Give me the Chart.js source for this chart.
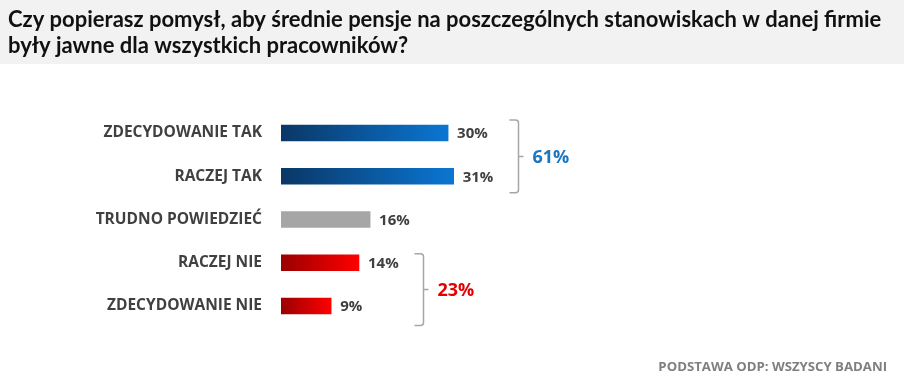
<!DOCTYPE html>
<html>
<head>
<meta charset="utf-8">
<script src="https://cdn.jsdelivr.net/npm/chart.js@4.4.1/dist/chart.umd.min.js"></script>
<style>
  html, body { margin: 0; padding: 0; background: #ffffff; }
  #wrap { width: 904px; height: 379px; position: relative; }
</style>
</head>
<body>
<div id="wrap"><canvas id="c" width="904" height="379"></canvas></div>
<script>
// ---- data ----
const titleLines = [
  "Czy popierasz pomysł, aby średnie pensje na poszczególnych stanowiskach w danej firmie",
  "były jawne dla wszystkich pracowników?"
];
const categories = ["ZDECYDOWANIE TAK", "RACZEJ TAK", "TRUDNO POWIEDZIEĆ", "RACZEJ NIE", "ZDECYDOWANIE NIE"];
const values = [30, 31, 16, 14, 9];
const groupStart = [0, 3];
const groupEnd = [1, 4];
const groupTotals = [61, 23];
const footerText = "PODSTAWA ODP: WSZYSCY BADANI";

// ---- styles ----
const barColors = [
  ["#0a3766", "#0a76d2"],
  ["#0a3766", "#0a76d2"],
  ["#a6a6a6", "#a6a6a6"],
  ["#9a0000", "#ff0000"],
  ["#9a0000", "#ff0000"]
];
const groupStyle = [
  { color: "#1b75bf", padTop: 13, padBottom: 16.5 },
  { color: "#e50000", padTop: 9, padBottom: 19.5 }
];
const FONT = "'Open Sans', 'DejaVu Sans', sans-serif";
const TITLE_FONT = "bold 22px Lato, 'Liberation Sans Narrow', sans-serif";

const decorPlugin = {
  id: "decor",
  beforeDraw(chart) {
    const ctx = chart.ctx;
    ctx.save();
    ctx.fillStyle = "#f2f2f2";
    ctx.fillRect(0, 0, chart.width, 64);
    ctx.fillStyle = "#111111";
    ctx.font = TITLE_FONT;
    ctx.textAlign = "left";
    ctx.textBaseline = "alphabetic";
    ctx.fillText(titleLines[0], 8, 27);
    ctx.fillText(titleLines[1], 8, 53);
    ctx.restore();
  },
  afterDatasetsDraw(chart) {
    const ctx = chart.ctx;
    const meta = chart.getDatasetMeta(0);
    const xs = chart.scales.x;
    ctx.save();
    // value labels
    ctx.font = "bold 15px " + FONT;
    ctx.fillStyle = "#404040";
    ctx.textAlign = "left";
    ctx.textBaseline = "middle";
    meta.data.forEach((bar, i) => {
      ctx.fillText(values[i] + "%", bar.x + 9, bar.y + 1);
    });
    // brackets
    groupTotals.forEach((tot, g) => {
      const s = groupStart[g], e = groupEnd[g];
      let maxV = 0;
      for (let i = s; i <= e; i++) maxV = Math.max(maxV, values[i]);
      const x = Math.round(xs.getPixelForValue(maxV)) + 64.5;
      const top = meta.data[s].y - groupStyle[g].padTop;
      const bottom = meta.data[e].y + groupStyle[g].padBottom;
      const mid = (top + bottom) / 2;
      ctx.strokeStyle = "#a6a6a6";
      ctx.lineWidth = 1.5;
      ctx.beginPath();
      ctx.moveTo(x - 9, top);
      ctx.arcTo(x, top, x, top + 6, 3);
      ctx.lineTo(x, bottom - 3);
      ctx.arcTo(x, bottom, x - 9, bottom, 3);
      ctx.lineTo(x - 9, bottom);
      ctx.moveTo(x, mid);
      ctx.lineTo(x + 5, mid);
      ctx.stroke();
      ctx.font = "bold 18px " + FONT;
      ctx.fillStyle = groupStyle[g].color;
      ctx.textBaseline = "middle";
      ctx.fillText(tot + "%", x + 14, mid + 1);
    });
    // footer
    ctx.font = "bold 13.2px " + FONT;
    ctx.fillStyle = "#7f7f7f";
    ctx.textAlign = "right";
    ctx.textBaseline = "middle";
    ctx.fillText(footerText, 887, 367);
    ctx.restore();
  }
};

new Chart(document.getElementById("c"), {
  type: "bar",
  data: {
    labels: categories,
    datasets: [{
      data: values,
      barThickness: 16,
      borderWidth: 0,
      backgroundColor(ctx) {
        const chart = ctx.chart;
        const i = ctx.dataIndex;
        const xs = chart.scales.x;
        if (!chart.chartArea || !xs || i === undefined) return barColors[0][1];
        const x0 = xs.getPixelForValue(0);
        const x1 = xs.getPixelForValue(values[i]);
        const g = chart.ctx.createLinearGradient(x0, 0, x1, 0);
        g.addColorStop(0, barColors[i][0]);
        g.addColorStop(1, barColors[i][1]);
        return g;
      }
    }]
  },
  options: {
    indexAxis: "y",
    responsive: false,
    animation: false,
    layout: { padding: { left: 0, top: 111.4, right: 66, bottom: 51.4 } },
    plugins: { legend: { display: false }, tooltip: { enabled: false } },
    scales: {
      x: { display: false, min: 0, max: 100 },
      y: {
        afterFit(scale) { scale.width = 281; },
        grid: { display: false, drawTicks: false },
        border: { display: false },
        ticks: {
          padding: 19,
          color: "#404040",
          font: { family: FONT, weight: "bold", size: 15.5 }
        }
      }
    }
  },
  plugins: [decorPlugin]
});
</script>
</body>
</html>
